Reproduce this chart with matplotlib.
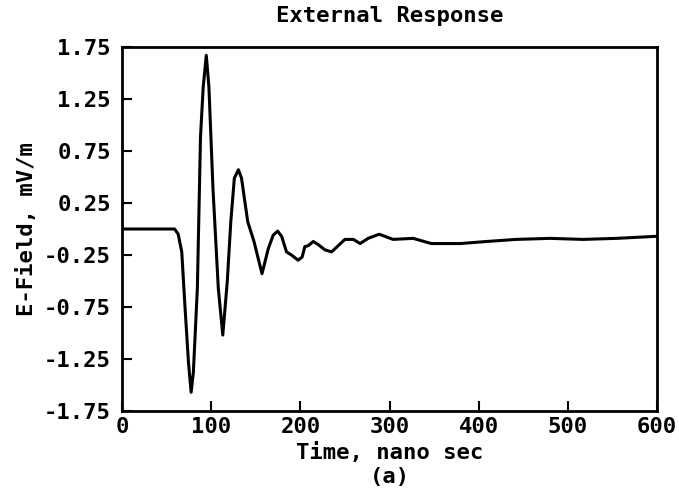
#!/usr/bin/env python3
# External response: E-field vs time (a)
from matplotlib import pyplot as plt
import numpy as np

# time samples (ns) and field values (mV/m)
time_ns = [0, 59, 63, 67, 70.5, 74.5, 77.5, 80, 84.5, 88, 91, 94.5, 97.5,
           102, 108, 113, 118, 122, 126, 130.5, 134, 141, 148, 157, 164,
           169.5, 174.5, 179, 184.5, 190, 197.5, 202, 205, 209, 214.5, 220,
           227.5, 235, 242.5, 250, 259.5, 267, 276, 288.5, 304, 326.5, 347,
           379, 409, 442, 480, 517, 554.5, 600]
efield = [0.0, 0.0, -0.05, -0.22, -0.73, -1.28, -1.57, -1.38, -0.57, 0.88,
          1.36, 1.67, 1.36, 0.39, -0.57, -1.02, -0.51, 0.07, 0.49, 0.57,
          0.49, 0.07, -0.12, -0.43, -0.19, -0.06, -0.02, -0.07, -0.22, -0.25,
          -0.30, -0.27, -0.17, -0.16, -0.12, -0.15, -0.20, -0.22, -0.16,
          -0.10, -0.10, -0.14, -0.09, -0.05, -0.10, -0.09, -0.14, -0.14,
          -0.12, -0.10, -0.09, -0.10, -0.09, -0.07]

x_ticks = [0, 100, 200, 300, 400, 500, 600]
y_ticks = [-1.75, -1.25, -0.75, -0.25, 0.25, 0.75, 1.25, 1.75]

plt.rcParams['font.family'] = ['DejaVu Sans Mono', 'DejaVu Sans']
plt.rcParams['font.weight'] = 'bold'

fig = plt.figure(figsize=(6.79, 4.96), dpi=100)
ax = fig.add_axes([0.1797, 0.1714, 0.7879, 0.7338])

ax.plot(time_ns, efield, color='black', linewidth=2.2)

ax.set_xlim(0, 600)
ax.set_ylim(-1.75, 1.75)
ax.set_xticks(x_ticks)
ax.set_yticks(y_ticks)
ax.set_yticklabels(['{:.2f}'.format(v) for v in y_ticks])
ax.tick_params(direction='in', length=7, width=1.5, labelsize=16, pad=4)
ax.tick_params(axis='y', pad=8)
for sp in ax.spines.values():
    sp.set_linewidth(2)

ax.set_title('External Response', fontsize=16, fontweight='bold', pad=18)
ax.set_xlabel('Time, nano sec\n(a)', fontsize=16, fontweight='bold',
              linespacing=1.25, labelpad=4)
ax.set_ylabel('E-Field, mV/m', fontsize=16, fontweight='bold', labelpad=5)

fig.savefig('out.png', dpi=100)
